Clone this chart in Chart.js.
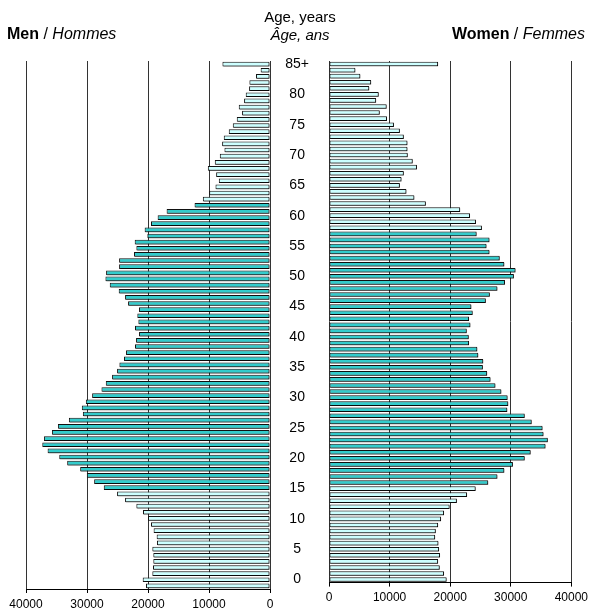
<!DOCTYPE html>
<html>
<head>
<meta charset="utf-8">
<script src="https://cdn.jsdelivr.net/npm/chart.js@4"></script>
<style>
body{margin:0;background:#fff;font-family:Arial,"Liberation Sans",sans-serif;}
#marco{position:relative;width:592px;height:611px;overflow:hidden;}
.titulo{position:absolute;font-size:16px;line-height:16px;color:#000;white-space:nowrap;}
.edad{position:absolute;left:240px;width:120px;text-align:center;font-size:15px;line-height:15px;color:#000;}
#hombres{position:absolute;left:0;top:0;}
#mujeres{position:absolute;left:270px;top:0;}
</style>
</head>
<body>
<div id="marco">
  <canvas id="hombres" width="280" height="611"></canvas>
  <canvas id="mujeres" width="322" height="611"></canvas>
  <div class="titulo" style="left:7px;top:26px;"><b>Men</b> / <i>Hommes</i></div>
  <div class="titulo" style="right:7px;top:26px;"><b>Women</b> / <i>Femmes</i></div>
  <div class="edad" style="top:9px;">Age, years</div>
  <div class="edad" style="top:27px;"><i>Âge, ans</i></div>
</div>
<script>
// edades 0..84 y 85+
var edades = [];
for (var i = 0; i < 85; i++) { edades.push(String(i)); }
edades.push('85+');

// hombres, edad 0 -> 85+
var hombres = [20330, 20870, 19290, 19180, 19130, 19130, 19290, 18530, 18580, 19080,
               19510, 20000, 20820, 21910, 23760, 25070, 27250, 28830, 30030, 31120,
               33250, 34550, 36460, 37330, 37060, 35750, 34770, 32970, 30680, 30850,
               30190, 29160, 27630, 26920, 25890, 25070, 24690, 23930, 23600, 22130,
               21960, 21470, 22130, 21580, 21750, 21470, 23270, 23760, 24800, 26270,
               26980, 26870, 24740, 24740, 22290, 21910, 22180, 20110, 20550, 19510,
               18420, 16950, 12370, 11010, 9970, 8940, 8390, 8830, 10190, 9050,
               8230, 7470, 7850, 7580, 6760, 6100, 5450, 4580, 5120, 4250,
               3980, 3430, 3380, 2290, 1530, 7800];

// mujeres, edad 0 -> 85+
var mujeres = [19420, 18990, 18280, 18010, 18330, 18170, 18060, 17520, 17630, 18010,
               18500, 18990, 19910, 21110, 22790, 24210, 26280, 27800, 28940, 30360,
               32310, 33290, 35740, 36120, 35410, 35250, 33460, 32310, 29430, 29590,
               29480, 28450, 27470, 26660, 26110, 25400, 25460, 24640, 24480, 23120,
               23070, 22740, 23340, 23120, 23720, 23500, 25890, 26550, 27800, 29050,
               30520, 30790, 28940, 28180, 26490, 26000, 26490, 24370, 25240, 24260,
               23280, 21650, 15990, 14090, 12780, 11700, 11970, 12350, 14520, 13820,
               13000, 12950, 12950, 12350, 11700, 10720, 9570, 8380, 9520, 7780,
               8210, 6640, 6960, 5170, 4350, 18010];

// edad productiva
var inicioActivos = 16;
var finHombres = 62;
var finMujeres = 57;

var TURQUESA = '#33CCCC';
var CELESTE = '#CCFFFF';

function colorBarra(fin) {
    return function(c) {
        var e = c.dataIndex;
        return (e >= inicioActivos && e <= fin) ? TURQUESA : CELESTE;
    };
}

var sombra = {
    id: 'sombra',
    beforeDatasetsDraw: function(chart) {
        var ctx = chart.ctx;
        ctx.save();
        ctx.shadowColor = 'rgba(0,0,0,0.45)';
        ctx.shadowOffsetX = 1;
        ctx.shadowOffsetY = 1;
        ctx.shadowBlur = 0;
    },
    afterDatasetsDraw: function(chart) {
        chart.ctx.restore();
    }
};

function ejeX(invertido) {
    return {
        reverse: invertido,
        min: 0,
        max: 40000,
        ticks: { stepSize: 10000, color: '#000', padding: 4, maxRotation: 0,
                 font: { size: 12, family: 'Arial, "Liberation Sans"' },
                 callback: function(v) { return String(v); } },
        grid: { color: '#333', lineWidth: 1, tickLength: 4, tickColor: '#000' },
        border: { color: '#000' },
        afterFit: function(s) { s.height = 22; }
    };
}

function serie(datos, fin) {
    return {
        data: datos,
        backgroundColor: colorBarra(fin),
        borderColor: '#111',
        borderWidth: 1,
        borderSkipped: false,
        barPercentage: 0.76,
        categoryPercentage: 1
    };
}

new Chart(document.getElementById('hombres'), {
    type: 'bar',
    data: { labels: edades, datasets: [serie(hombres, finHombres)] },
    options: {
        indexAxis: 'y',
        responsive: false,
        animation: false,
        layout: { padding: { left: 26, right: 10, top: 61, bottom: 0 } },
        plugins: { legend: { display: false }, tooltip: { enabled: false } },
        scales: {
            x: ejeX(true),
            y: { display: false, reverse: true }
        }
    },
    plugins: [sombra]
});

new Chart(document.getElementById('mujeres'), {
    type: 'bar',
    data: { labels: edades, datasets: [serie(mujeres, finMujeres)] },
    options: {
        indexAxis: 'y',
        responsive: false,
        animation: false,
        layout: { padding: { left: 0, right: 19, top: 61, bottom: 0 } },
        plugins: { legend: { display: false }, tooltip: { enabled: false } },
        scales: {
            x: ejeX(false),
            y: {
                reverse: true,
                grid: { display: false, drawTicks: false },
                border: { display: false },
                ticks: {
                    autoSkip: false,
                    crossAlign: 'center',
                    padding: 20,
                    color: '#000',
                    font: { size: 14, family: 'Arial, "Liberation Sans"' },
                    callback: function(v, idx) { return idx % 5 == 0 ? edades[idx] : ''; }
                },
                afterFit: function(s) { s.width = 59; }
            }
        }
    },
    plugins: [sombra]
});
</script>
</body>
</html>
